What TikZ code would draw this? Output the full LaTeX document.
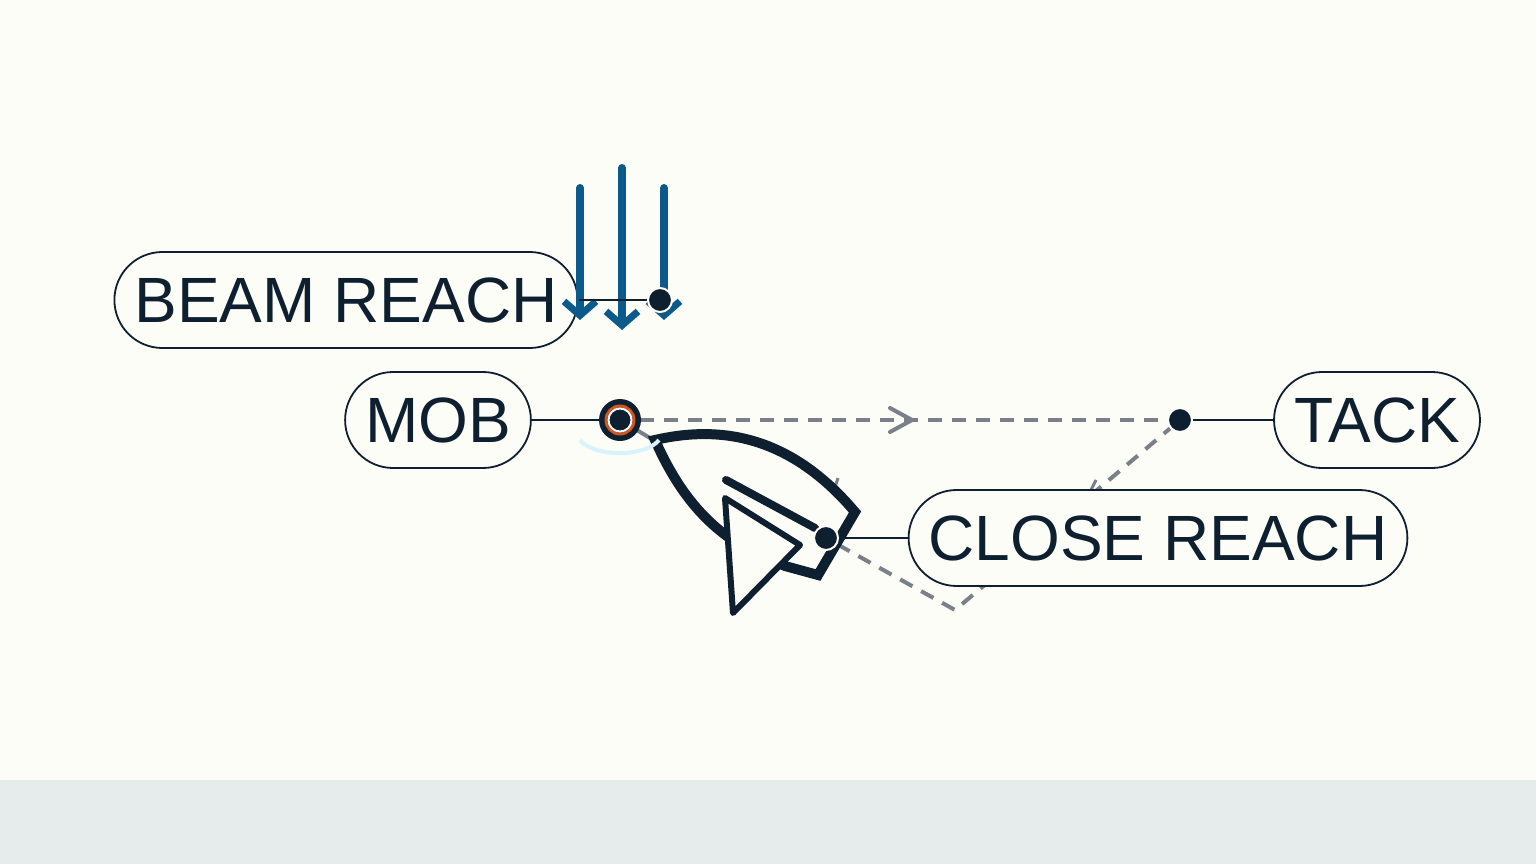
\documentclass[tikz,border=0pt]{standalone}
\usepackage{fontspec}
\setmainfont{Liberation Sans}
\usetikzlibrary{arrows.meta}
\definecolor{ink}{HTML}{0E1F30}
\definecolor{bg}{HTML}{FDFDF7}
\definecolor{band}{HTML}{E6ECEC}
\definecolor{blu}{HTML}{0B5A8A}
\definecolor{gry}{HTML}{7A8088}
\definecolor{org}{HTML}{D2561E}
\begin{document}
\begin{tikzpicture}[x=1pt,y=-1pt,
 pill/.style={draw=ink,line width=1.8pt,fill=bg,rounded corners=48pt,minimum height=96pt,inner xsep=20pt,font=\fontsize{64}{64}\selectfont,text=ink},
 conn/.style={draw=ink,line width=2pt},
 dot/.style={circle,fill=ink,draw=bg,line width=2pt,minimum size=24pt,inner sep=0pt},
 track/.style={draw=gry,line width=4pt,dash pattern=on 14pt off 10pt},
 wind/.style={draw=blu,line width=8pt,line cap=round,-{Straight Barb[length=14pt,width=32pt,line width=7pt]}}]
\useasboundingbox (0,0) rectangle (1536,864);
\fill[bg] (0,0) rectangle (1536,780);
\fill[band] (0,780) rectangle (1536,864);
% dashed tracks
\coordinate (apex) at (955,610);
\node[dot] (tack) at (1180,420) {};
\node[dot] (cr) at (826,538) {};
\node[circle,inner sep=0pt,minimum size=40pt] (mobm) at (620,420) {};
\draw[track] (mobm.east) -- (tack.west);
\draw[gry,line width=4pt,line cap=round] (890,408) -- (912,420) -- (890,432);
\draw[track] (cr) -- (apex) -- (tack);
\draw[gry,line width=3pt] (838,478) -- (834,490);
\draw[gry,line width=3pt] (1096,480) -- (1090,492);
\draw[gry,line width=4pt] (mobm.center) -- (660,444);
% boat
\draw[ink,line width=10pt,line join=miter,fill=bg] (655,440) .. controls (720,425) and (790,435) .. (855,512) -- (818,575) -- (785,566)
  -- (740,545) .. controls (700,520) and (675,485) .. cycle;
\draw[ink,line width=8pt,line cap=round] (726,480) -- (815,528);
\draw[ink,line width=6pt,line join=round,fill=bg] (725,498) -- (800,545) -- (733,613) -- cycle;
% pills
\node[pill] (br) at (346,300) {BEAM REACH};
\node[pill] (mob) at (438,420) {MOB};
\node[pill] (tk) at (1377,420) {TACK};
\node[pill] (clr) at (1158,538) {CLOSE REACH};
% wind
\draw[wind] (580,188) -- (580,320);
\draw[wind] (622,168) -- (622,330);
\draw[wind] (664,188) -- (664,320);
\node[dot] (bd) at (660,300) {};
\draw[conn] (br.east) -- (bd);
\draw[conn] (mob.east) -- (mobm);
\draw[conn] (tk.west) -- (tack);
\draw[conn] (clr.west) -- (cr);
\node[dot] at (826,538) {};
\node[dot] at (1180,420) {};
% MOB marker
\draw[cyan!15,line width=4pt] (580,440) arc[start angle=200,end angle=340,x radius=42pt,y radius=20pt];
\fill[ink] (mobm) circle (21pt);
\draw[org,line width=3pt] (mobm) circle (14pt);
\draw[white,line width=2pt] (mobm) circle (11.5pt);
\fill[ink] (mobm) circle (10pt);
\end{tikzpicture}
\end{document}
